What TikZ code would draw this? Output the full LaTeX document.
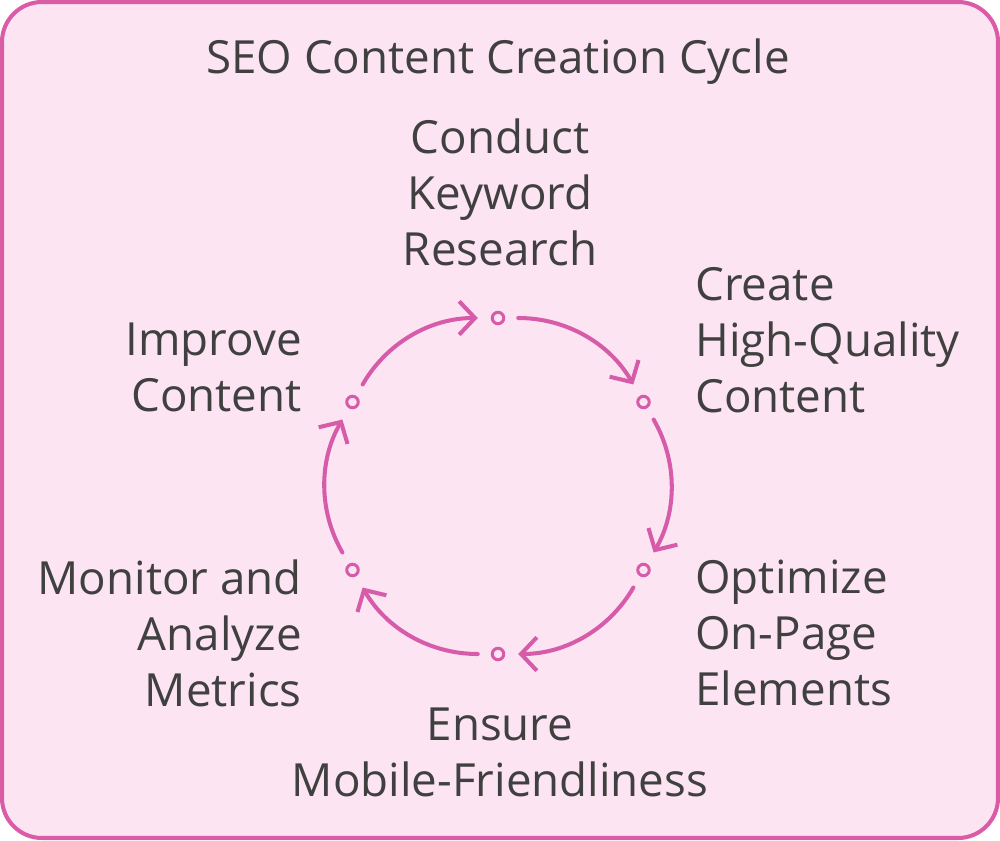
\documentclass[tikz,border=0pt]{standalone}
\usepackage{fontspec}
\setmainfont{Open Sans}
\usepackage{tikz}
\usetikzlibrary{arrows.meta, positioning}

\definecolor{boxfill}{HTML}{FCE4F3}
\definecolor{boxline}{HTML}{DA5CA6}
\definecolor{cycline}{HTML}{D65CAA}
\definecolor{labeltext}{HTML}{404040}

\begin{document}
\begin{tikzpicture}[
    x=0.02cm, y=0.02cm,
    frame/.style={draw=boxline, fill=boxfill, line width=2.3pt, rounded corners=0.8cm},
    dot/.style={circle, draw=cycline, fill=boxfill, line width=1.7pt, inner sep=0pt, minimum size=0.23cm},
    cyc/.style={draw=cycline, line width=2.3pt, line cap=round, shorten <=0.26cm, shorten >=0.26cm,
        -{Straight Barb[length=9pt, width=19pt, line width=2.3pt]}},
    lbl/.style={text=labeltext, inner sep=0pt, font=\fontsize{26}{31.9}\selectfont}
]
\useasboundingbox (0,0) rectangle (1000,840);
\draw[frame] (2,2) rectangle (998,838);

% Title
\node[lbl] (title) at (498,778) {SEO Content Creation Cycle};

% Nodes
\coordinate (c) at (498,354);
\node[dot] (d1) at ([shift={(90:168)}]c) {};
\node[dot] (d2) at ([shift={(30:168)}]c) {};
\node[dot] (d3) at ([shift={(-30:168)}]c) {};
\node[dot] (d4) at ([shift={(-90:168)}]c) {};
\node[dot] (d5) at ([shift={(-150:168)}]c) {};
\node[dot] (d6) at ([shift={(150:168)}]c) {};

% Labels
\node[lbl, align=center] (research) at (500,648) {Conduct\\Keyword\\Research};
\node[lbl, align=left, anchor=west] (create) at (695,500) {Create\\High-Quality\\Content};
\node[lbl, align=left, anchor=west] (optimize) at (695,207) {Optimize\\On-Page\\Elements};
\node[lbl, align=center] (mobile) at (500,88) {Ensure\\Mobile-Friendliness};
\node[lbl, align=right, anchor=east] (monitor) at (302,207) {Monitor and\\Analyze\\Metrics};
\node[lbl, align=right, anchor=east] (improve) at (302,473) {Improve\\Content};

% Paths
\draw[cyc] (d1) to[bend left=30] (d2);
\draw[cyc] (d2) to[bend left=30] (d3);
\draw[cyc] (d3) to[bend left=30] (d4);
\draw[cyc] (d4) to[bend left=30] (d5);
\draw[cyc] (d5) to[bend left=30] (d6);
\draw[cyc] (d6) to[bend left=30] (d1);
\end{tikzpicture}
\end{document}
